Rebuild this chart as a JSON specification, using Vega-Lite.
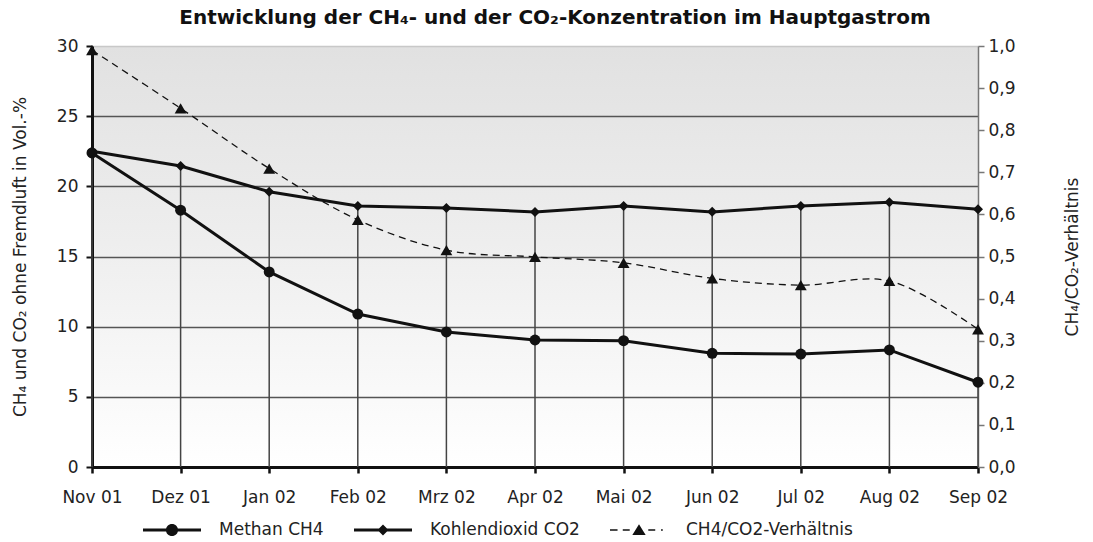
{
  "$schema": "https://vega.github.io/schema/vega-lite/v6.json",
  "width": 886,
  "height": 421,
  "autosize": "none",
  "padding": {"left": 92, "top": 46, "right": 115, "bottom": 75},
  "view": {"stroke": null, "fill": {"expr": "{gradient: 'linear', x1: 0, y1: 0, x2: 0, y2: 1, stops: [{offset: 0, color: '#e1e1e1'}, {offset: 0.5, color: '#efefef'}, {offset: 1, color: '#ffffff'}]}"}},
  "config": {
    "font": "DejaVu Sans",
    "locale": {"number": {"decimal": ",", "thousands": ".", "grouping": [3], "currency": ["", " €"]}},
    "axis": {"labelColor": "#222", "titleColor": "#222", "titleFontWeight": "normal", "labelFont": "DejaVu Sans", "titleFont": "DejaVu Sans"}
  },
  "title": {
    "text": "Entwicklung der CH₄- und der CO₂-Konzentration im Hauptgastrom",
    "fontSize": 20,
    "fontWeight": "bold",
    "color": "#111",
    "anchor": "middle",
    "frame": "group",
    "dx": 20,
    "offset": 9
  },
  "data": {
    "values": [
      {"Monat": "Nov 01", "Serie": "Methan CH4", "Wert": 22.38},
      {"Monat": "Dez 01", "Serie": "Methan CH4", "Wert": 18.3},
      {"Monat": "Jan 02", "Serie": "Methan CH4", "Wert": 13.9},
      {"Monat": "Feb 02", "Serie": "Methan CH4", "Wert": 10.9},
      {"Monat": "Mrz 02", "Serie": "Methan CH4", "Wert": 9.62},
      {"Monat": "Apr 02", "Serie": "Methan CH4", "Wert": 9.05},
      {"Monat": "Mai 02", "Serie": "Methan CH4", "Wert": 9.0},
      {"Monat": "Jun 02", "Serie": "Methan CH4", "Wert": 8.1},
      {"Monat": "Jul 02", "Serie": "Methan CH4", "Wert": 8.05},
      {"Monat": "Aug 02", "Serie": "Methan CH4", "Wert": 8.34},
      {"Monat": "Sep 02", "Serie": "Methan CH4", "Wert": 6.04},
      {"Monat": "Nov 01", "Serie": "Kohlendioxid CO2", "Wert": 22.5},
      {"Monat": "Dez 01", "Serie": "Kohlendioxid CO2", "Wert": 21.45},
      {"Monat": "Jan 02", "Serie": "Kohlendioxid CO2", "Wert": 19.62},
      {"Monat": "Feb 02", "Serie": "Kohlendioxid CO2", "Wert": 18.6},
      {"Monat": "Mrz 02", "Serie": "Kohlendioxid CO2", "Wert": 18.46},
      {"Monat": "Apr 02", "Serie": "Kohlendioxid CO2", "Wert": 18.17},
      {"Monat": "Mai 02", "Serie": "Kohlendioxid CO2", "Wert": 18.6},
      {"Monat": "Jun 02", "Serie": "Kohlendioxid CO2", "Wert": 18.18},
      {"Monat": "Jul 02", "Serie": "Kohlendioxid CO2", "Wert": 18.6},
      {"Monat": "Aug 02", "Serie": "Kohlendioxid CO2", "Wert": 18.86},
      {"Monat": "Sep 02", "Serie": "Kohlendioxid CO2", "Wert": 18.36},
      {"Monat": "Nov 01", "Serie": "CH4/CO2-Verhältnis", "Wert": 0.99},
      {"Monat": "Dez 01", "Serie": "CH4/CO2-Verhältnis", "Wert": 0.852},
      {"Monat": "Jan 02", "Serie": "CH4/CO2-Verhältnis", "Wert": 0.709},
      {"Monat": "Feb 02", "Serie": "CH4/CO2-Verhältnis", "Wert": 0.587},
      {"Monat": "Mrz 02", "Serie": "CH4/CO2-Verhältnis", "Wert": 0.515},
      {"Monat": "Apr 02", "Serie": "CH4/CO2-Verhältnis", "Wert": 0.499},
      {"Monat": "Mai 02", "Serie": "CH4/CO2-Verhältnis", "Wert": 0.485},
      {"Monat": "Jun 02", "Serie": "CH4/CO2-Verhältnis", "Wert": 0.448},
      {"Monat": "Jul 02", "Serie": "CH4/CO2-Verhältnis", "Wert": 0.432},
      {"Monat": "Aug 02", "Serie": "CH4/CO2-Verhältnis", "Wert": 0.442},
      {"Monat": "Sep 02", "Serie": "CH4/CO2-Verhältnis", "Wert": 0.327}
    ]
  },
  "encoding": {
    "x": {
      "field": "Monat",
      "type": "ordinal",
      "scale": {"type": "point", "padding": 0, "domain": ["Nov 01", "Dez 01", "Jan 02", "Feb 02", "Mrz 02", "Apr 02", "Mai 02", "Jun 02", "Jul 02", "Aug 02", "Sep 02"]},
      "axis": {
        "title": null,
        "labelAngle": 0,
        "labelFontSize": 17,
        "labelPadding": 16,
        "domainColor": "#111",
        "domainWidth": 3,
        "tickColor": "#111",
        "tickWidth": 2.5,
        "tickSize": 6,
        "grid": false
      }
    }
  },
  "layer": [
    {
      "encoding": {
        "y": {
          "field": "Wert",
          "type": "quantitative",
          "scale": {"domain": [0, 30], "nice": false, "zero": true},
          "axis": {
            "orient": "left",
            "title": "CH₄ und CO₂ ohne Fremdluft in Vol.-%",
            "titleFontSize": 17,
            "titlePadding": 27,
            "values": [0, 5, 10, 15, 20, 25, 30],
            "labelFontSize": 17,
            "labelPadding": 8,
            "domainColor": "#111",
            "domainWidth": 3,
            "tickColor": "#111",
            "tickWidth": 2,
            "tickSize": 6,
            "grid": true,
            "gridColor": {"condition": {"test": "datum.value === 30", "value": "#c8c8c8"}, "value": "#555555"},
            "gridWidth": 1.3
          }
        }
      },
      "layer": [
        {
          "transform": [{"filter": "datum.Serie === 'Kohlendioxid CO2'"}],
          "mark": {"type": "rule", "color": "#444", "strokeWidth": 1.5},
          "encoding": {"y2": {"datum": 0}}
        },
        {
          "transform": [{"filter": "datum.Serie !== 'CH4/CO2-Verhältnis'"}],
          "mark": {"type": "line", "color": "#111", "strokeWidth": 3, "interpolate": "linear"},
          "encoding": {"detail": {"field": "Serie"}}
        },
        {
          "transform": [{"filter": "datum.Serie !== 'CH4/CO2-Verhältnis'"}],
          "mark": {"type": "point", "filled": true, "color": "#111", "opacity": 1},
          "encoding": {
            "shape": {
              "field": "Serie",
              "type": "nominal",
              "scale": {"domain": ["Methan CH4", "Kohlendioxid CO2"], "range": ["circle", "diamond"]},
              "legend": null
            },
            "size": {"condition": {"test": "datum.Serie === 'Methan CH4'", "value": 120}, "value": 100}
          }
        }
      ]
    },
    {
      "transform": [{"filter": "datum.Serie === 'CH4/CO2-Verhältnis'"}],
      "encoding": {
        "y": {
          "field": "Wert",
          "type": "quantitative",
          "scale": {"domain": [0, 1], "nice": false},
          "axis": {
            "orient": "right",
            "title": "CH₄/CO₂-Verhältnis",
            "titleAngle": 270,
            "titleFontSize": 17,
            "titlePadding": 66,
            "values": [0, 0.1, 0.2, 0.3, 0.4, 0.5, 0.6, 0.7, 0.8, 0.9, 1.0],
            "format": ".1f",
            "labelFontSize": 17,
            "labelPadding": 4,
            "domainColor": "#777",
            "domainWidth": 1.5,
            "tickColor": "#777",
            "tickWidth": 1.5,
            "tickSize": 6,
            "grid": false
          }
        }
      },
      "layer": [
        {
          "mark": {"type": "line", "color": "#111", "strokeWidth": 1.3, "strokeDash": [7, 5], "interpolate": "catmull-rom"}
        },
        {
          "mark": {"type": "point", "filled": true, "color": "#111", "opacity": 1, "size": 140, "shape": "triangle-up"}
        }
      ]
    },
    {
      "transform": [{"filter": "false"}],
      "mark": {"type": "point", "filled": true, "color": "#111", "opacity": 1},
      "encoding": {
        "shape": {
          "field": "Serie",
          "type": "nominal",
          "scale": {
            "domain": ["Methan CH4", "Kohlendioxid CO2", "CH4/CO2-Verhältnis"],
            "range": [
              "M-1,-0.055L1,-0.055L1,0.055L-1,0.055ZM-0.21,0A0.21,0.21,0,1,1,0.21,0A0.21,0.21,0,1,1,-0.21,0Z",
              "M-1,-0.055L1,-0.055L1,0.055L-1,0.055ZM0,-0.19L0.19,0L0,0.19L-0.19,0Z",
              "M-1,-0.027L-0.74,-0.027L-0.74,0.027L-1,0.027ZM-0.56,-0.027L-0.32,-0.027L-0.32,0.027L-0.56,0.027ZM0.32,-0.027L0.56,-0.027L0.56,0.027L0.32,0.027ZM0.76,-0.027L0.82,-0.027L0.82,0.027L0.76,0.027ZM0,-0.2L0.23,0.17L-0.23,0.17Z"
            ]
          },
          "legend": {
            "orient": "none",
            "legendX": 51,
            "legendY": 455,
            "direction": "horizontal",
            "title": null,
            "padding": 0,
            "symbolSize": 3364,
            "symbolStrokeWidth": 0,
            "symbolFillColor": "#111",
            "symbolOpacity": 1,
            "labelFontSize": 17,
            "labelColor": "#222",
            "labelOffset": 18,
            "labelLimit": 400,
            "columnPadding": 30
          }
        }
      }
    }
  ],
  "resolve": {"scale": {"y": "independent", "shape": "independent"}}
}
